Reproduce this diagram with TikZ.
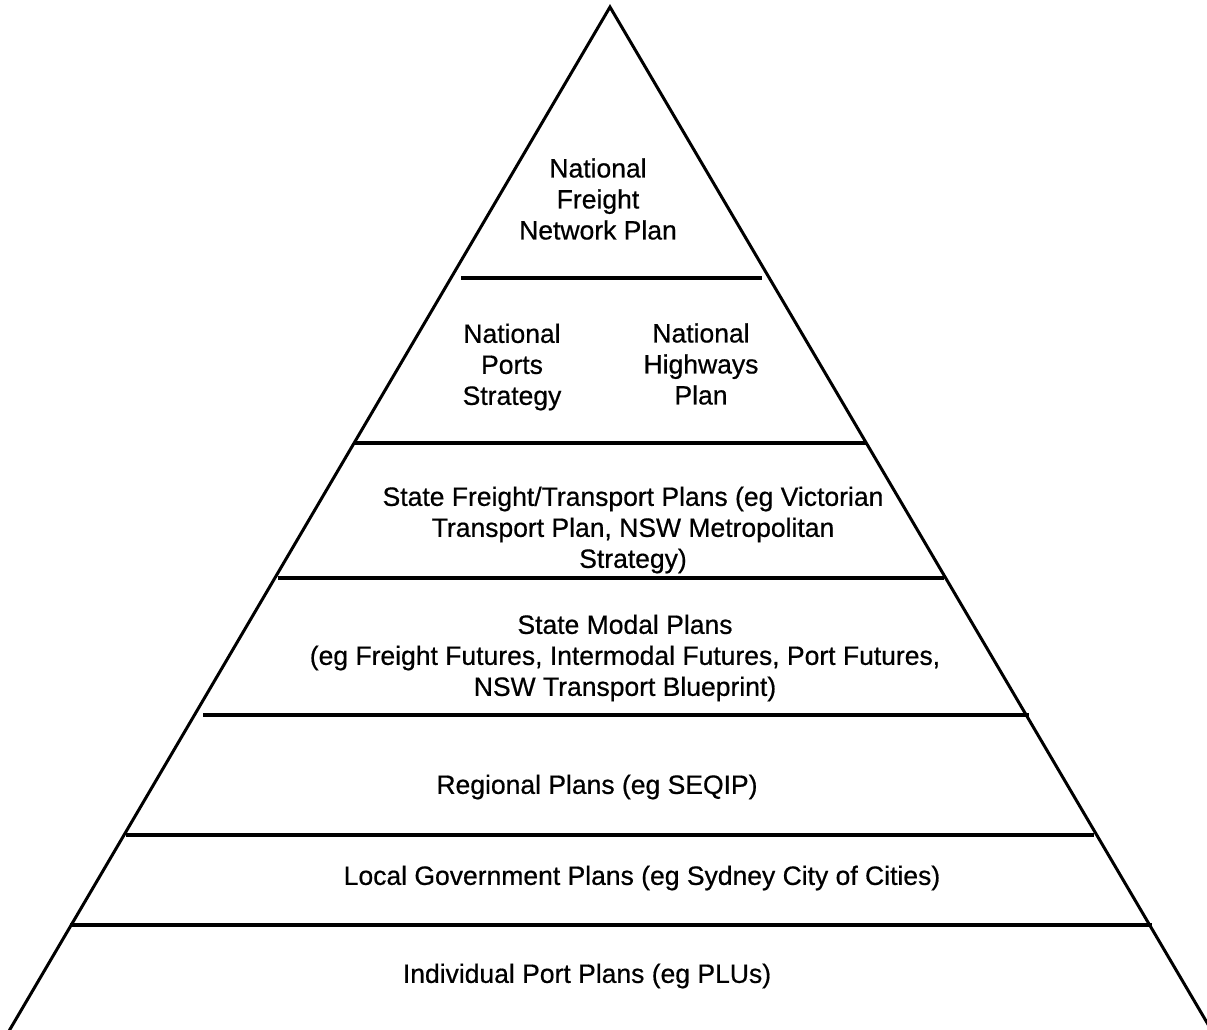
\documentclass[tikz,border=0pt]{standalone}
\usepackage{fontspec}
\setmainfont{Liberation Sans}
\newfontface\levelface{Liberation Sans}[FakeBold=0.6]
\usepackage{tikz}

\begin{document}
\begin{tikzpicture}[x=1pt, y=-1pt,
				    level/.style={fill=none, text centered, text=black, align=center,
				    			  inner sep=0pt, font=\levelface\fontsize{26.5}{31}\selectfont},
				    side/.style={draw=black, line width=3pt, line join=miter},
				    divider/.style={draw=black, line width=3.6pt}]
	\useasboundingbox (0, 0) rectangle (1207, 1029);

	% pyramid outline
	\coordinate (apex) at (610, 7);
	\coordinate (bl) at (9, 1031);
	\coordinate (br) at (1209, 1026);
	\path[side] (bl) -- (apex) -- (br);

	% dividing lines
	\path[divider] (461, 278) -- (762, 278);
	\path[divider] (355, 443) -- (866, 443);
	\path[divider] (278, 578) -- (944, 578);
	\path[divider] (203, 715) -- (1029, 715);
	\path[divider] (126, 835) -- (1094, 835);
	\path[divider] (70, 925) -- (1152, 925);

	% levels
	\node[level] (l1) at (598, 199) {National\\Freight\\Network Plan};
	\node[level] (l2a) at (512, 367) {National\\Ports\\Strategy};
	\node[level] (l2b) at (701, 364) {National\\Highways\\Plan};
	\node[level] (l3) at (633, 530) {State Freight/Transport Plans (eg Victorian\\Transport Plan, NSW Metropolitan\\Strategy)};
	\node[level] (l4) at (625, 658) {State Modal Plans\\(eg Freight Futures, Intermodal Futures, Port Futures,\\NSW Transport Blueprint)};
	\node[level] (l5) at (597, 787) {Regional Plans (eg SEQIP)};
	\node[level] (l6) at (642, 878) {Local Government Plans (eg Sydney City of Cities)};
	\node[level] (l7) at (587, 976) {Individual Port Plans (eg PLUs)};

\end{tikzpicture}
\end{document}
